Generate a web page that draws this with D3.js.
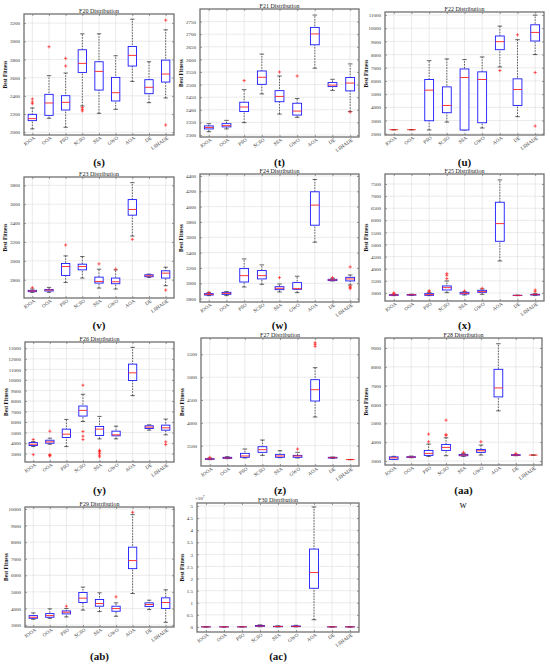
<html>
<meta charset="utf-8" />
<head>
<title>F20-F30 Distribution</title>
<style>
body { margin: 0; background: #fff; }
svg text { font-family: "Liberation Serif", "DejaVu Serif", serif; }
.tick text { font-size: 5px; fill: #333; }
.tick line { stroke: #444; }
.domain { display: none; }
.grid line { stroke: #dedede; stroke-width: 0.6; }
.title { font-size: 6px; text-anchor: middle; fill: #222; }
.ylab { font-size: 5.5px; font-weight: bold; text-anchor: middle; fill: #111; }
.tag { font-size: 11px; font-weight: bold; text-anchor: middle; fill: #111; }
</style>
<script src="https://cdn.jsdelivr.net/npm/d3@7"></script>
</head>
<body>
<svg class="chart" width="550" height="667"></svg>

<script>
/********
 * Data *
 ********/

var algorithms = ["IOOA","OOA","PSO","SCSO","SSA","GWO","AOA","DE","LSHADE"];
var functionNames = ["F20","F21","F22","F23","F24","F25","F26","F27","F28","F29","F30"];
var panelTags = ["(s)","(t)","(u)","(v)","(w)","(x)","(y)","(z)","(aa)","(ab)","(ac)"];

// y axis limits and tick labels
var yLimits = [[1970,3300],[2292,2800],[1900,11230],[2607,3888],[2756,4426],[2669,7913],
               [2204,13605],[3055,5858],[2790,9530],[2879,10121],[-0.207,5.124]];
var yTicks = [
  d3.range(2000,3201,200), d3.range(2300,2751,50), d3.range(2000,11001,1000),
  d3.range(2800,3801,200), d3.range(2800,4401,200), d3.range(3000,7501,500),
  d3.range(3000,13001,1000), d3.range(3500,5501,500), d3.range(3000,9001,1000),
  d3.range(3000,10001,1000), d3.range(0,5.01,0.5)
];
var f30Exponent = 7; // F30 values are in units of 10^7

// [lower whisker, q1, median, q3, upper whisker] per algorithm
var f20 = [[2037,2128,2150,2197,2267],[2154,2186,2322,2417,2622],[2055,2245,2329,2402,2651],
  [2289,2658,2757,2907,3082],[2208,2464,2669,2775,3082],[2252,2344,2435,2603,2841],
  [2559,2728,2845,2943,3243],[2325,2424,2494,2578,2775],[2377,2552,2640,2793,3126]];
var f20Out = [[2366,2333,2314],[2940],[2812,2728],[2271,2252,2234],[],[],[],[],[3232,2080]];

var f21 = [[2313,2324,2330,2336,2345],[2324,2332,2337,2345,2358],[2349,2393,2411,2430,2480],
  [2463,2501,2529,2554,2621],[2383,2432,2453,2476,2534],[2370,2379,2395,2426,2445],
  [2565,2658,2701,2727,2776],[2477,2492,2498,2508,2521],[2393,2475,2506,2528,2582]];
var f21Out = [[],[],[2516],[],[2550],[2534],[],[],[2391]];

var f22 = [[2300,2300,2300,2300,2300],[2300,2300,2300,2300,2300],[2280,2980,5300,6110,7540],
  [2880,3590,4140,5550,7670],[2280,2280,6260,6910,7620],[2430,2830,6110,6690,7820],
  [7060,8370,8980,9410,10160],[3290,4140,5350,6160,9130],[8000,9030,9680,10260,10990]];
var f22Out = [[],[],[],[],[],[],[6790],[9500],[6640,2580]];

var f23 = [[2667,2674,2681,2688,2702],[2667,2681,2691,2698,2719],[2772,2846,2940,2972,3053],
  [2818,2905,2940,2965,3046],[2712,2765,2782,2828,2912],[2702,2758,2779,2818,2905],
  [3263,3484,3544,3649,3828],[2825,2832,2842,2853,2860],[2737,2818,2870,2895,2933]];
var f23Out = [[2716],[],[3168],[],[2968],[2912],[3228],[],[2691]];

var f24 = [[2839,2847,2856,2865,2882],[2839,2856,2869,2882,2891],[2952,3017,3100,3192,3318],
  [2987,3057,3100,3166,3240],[2887,2917,2935,2956,2991],[2878,2922,2930,3009,3092],
  [3536,3758,4020,4194,4355],[3031,3035,3044,3052,3065],[2978,3031,3057,3078,3109]];
var f24Out = [[2880],[],[],[],[3074],[],[],[3075],[3214,2961,2930,2945]];

var f25 = [[2890,2904,2917,2931,2945],[2900,2912,2925,2935,2950],[2890,2904,2931,2972,3014],
  [3014,3124,3220,3289,3496],[2917,2959,2986,3028,3055],[2945,3028,3055,3110,3165],
  [4322,5135,5865,6747,7669],[2890,2895,2900,2905,2910],[2904,2917,2931,2945,2972]];
var f25Out = [[2972,3000],[],[3096,3055],[3799,3730,3592],[3083],[3193],[],[],[3124,3055]];

var f26 = [[3669,3764,3892,4051,4146],[3892,3987,4115,4274,4465],[3669,4529,4847,5325,6248],
  [6057,6567,7108,7522,8637],[4401,4720,5325,5580,6535],[4401,4688,4783,5134,5611],
  [8510,9943,10675,11503,13096],[5229,5389,5516,5643,5739],[4783,5229,5452,5707,6280]];
var f26Out = [[4338,2904],[5134,2840,2780,2900],[],[9497,5102,4656,4338],
  [3318,3159,3000,2841,2700,3230],[],[],[],[4115,3860]];

var f27 = [[3193,3201,3208,3215,3230],[3215,3223,3230,3245,3259],[3230,3245,3274,3332,3427],
  [3288,3354,3412,3478,3624],[3237,3245,3274,3310,3391],[3230,3245,3274,3288,3354],
  [4128,4478,4726,4945,5208],[3223,3230,3237,3245,3252],[3195,3195,3195,3195,3195]];
var f27Out = [[3245],[],[],[],[],[3427],[5755,5719,5675],[],[]];

var f28 = [[3080,3090,3170,3220,3250],[3176,3194,3212,3229,3265],[3247,3300,3406,3564,3899],
  [3282,3564,3723,3882,4235],[3247,3282,3317,3353,3406],[3317,3459,3547,3617,3847],
  [5663,6404,6880,7868,9226],[3282,3300,3317,3335,3353],[3317,3317,3317,3317,3317]];
var f28Out = [[],[],[4428,4023],[5169,4411,4350],[3460],[4023],[],[3406],[]];

var f29 = [[3344,3405,3466,3567,3729],[3405,3466,3567,3688,3972],[3486,3668,3769,3850,3992],
  [3900,4356,4619,4964,5287],[3810,4134,4296,4538,4943],[3526,3830,3992,4134,4336],
  [4900,6401,6887,7696,9660],[3931,4113,4235,4336,4498],[3162,3992,4356,4640,5125]];
var f29Out = [[],[],[4134],[],[],[4700],[9802],[],[]];

var f30 = [[0.003,0.004,0.005,0.006,0.008],[0.003,0.004,0.005,0.006,0.008],[0.004,0.005,0.006,0.007,0.01],
  [0.01,0.03,0.04,0.06,0.09],[0.005,0.01,0.02,0.03,0.05],[0.005,0.015,0.025,0.04,0.07],
  [0.30,1.60,2.25,3.22,4.96],[0.003,0.004,0.005,0.006,0.008],[0.003,0.004,0.005,0.006,0.008]];
var f30Out = [[],[],[],[],[],[],[],[],[]];

var stats = [f20,f21,f22,f23,f24,f25,f26,f27,f28,f29,f30];
var outliers = [f20Out,f21Out,f22Out,f23Out,f24Out,f25Out,f26Out,f27Out,f28Out,f29Out,f30Out];

/**********
 * Layout *
 **********/

// plot rectangles [left, top, right, bottom] and the y of the panel tag
var frames = [
  [24,14,174,135,162],[200,9,359,137,162],[385,12,544,135,162],
  [24,177,174,298,325],[200,174,359,302,325],[385,174,544,301,325],
  [25,342,174,462,490],[201,338,359,466,490],[385,338,542,465,490],
  [25,507,174,627,656],[197,503,359,632,656]
];

var svg = d3.select(".chart");
var fmt = d3.format("~g");
var plus = "M-1.6,0H1.6M0,-1.6V1.6";

function drawPanel(i){
  var f = frames[i];
  var left = f[0], top = f[1], right = f[2], bottom = f[3];

  var x = d3.scalePoint().domain(algorithms).range([left,right]).padding(0.5);
  var y = d3.scaleLinear().domain(yLimits[i]).range([bottom,top]);
  var step = x.step();

  var g = svg.append("g");

  // grid
  g.append("g").attr("class","grid")
    .selectAll("line.h").data(yTicks[i]).enter().append("line")
    .attr("x1",left).attr("x2",right)
    .attr("y1",function(d){ return y(d); }).attr("y2",function(d){ return y(d); });
  g.select(".grid").selectAll("line.v").data(algorithms).enter().append("line")
    .attr("x1",function(d){ return x(d); }).attr("x2",function(d){ return x(d); })
    .attr("y1",top).attr("y2",bottom);

  // axes with inward ticks
  var yAxis = g.append("g").attr("transform","translate("+left+",0)")
    .call(d3.axisLeft(y).tickValues(yTicks[i]).tickFormat(fmt).tickSizeInner(-2).tickPadding(4));
  yAxis.selectAll(".tick line").attr("stroke-width",0.5);

  g.append("g").attr("transform","translate("+right+",0)")
    .call(d3.axisRight(y).tickValues(yTicks[i]).tickFormat("").tickSizeInner(-2))
    .selectAll(".tick line").attr("stroke-width",0.5);

  var xAxis = g.append("g").attr("transform","translate(0,"+bottom+")")
    .call(d3.axisBottom(x).tickSizeInner(-2).tickPadding(3));
  xAxis.selectAll(".tick line").attr("stroke-width",0.5);
  xAxis.selectAll(".tick text")
    .attr("text-anchor","end")
    .attr("dy","0.3em")
    .attr("transform","rotate(-35)");

  g.append("g").attr("transform","translate(0,"+top+")")
    .call(d3.axisTop(x).tickFormat("").tickSizeInner(-2))
    .selectAll(".tick line").attr("stroke-width",0.5);

  // frame
  g.append("rect")
    .attr("x",left).attr("y",top)
    .attr("width",right-left).attr("height",bottom-top)
    .attr("fill","none").attr("stroke","#707070").attr("stroke-width",1.3);

  // boxes
  var rows = algorithms.map(function(a,k){ return {name:a, s:stats[i][k], o:outliers[i][k]}; });
  var box = g.selectAll("g.box").data(rows).enter().append("g").attr("class","box");

  box.append("line")
    .attr("x1",function(d){ return x(d.name); }).attr("x2",function(d){ return x(d.name); })
    .attr("y1",function(d){ return y(d.s[0]); }).attr("y2",function(d){ return y(d.s[4]); })
    .attr("stroke","#000").attr("stroke-width",0.6).attr("stroke-dasharray","1.6,1.2");

  [0,4].forEach(function(j){
    box.append("line")
      .attr("x1",function(d){ return x(d.name)-step*0.13; })
      .attr("x2",function(d){ return x(d.name)+step*0.13; })
      .attr("y1",function(d){ return y(d.s[j]); }).attr("y2",function(d){ return y(d.s[j]); })
      .attr("stroke","#000").attr("stroke-width",0.6);
  });

  box.append("rect")
    .attr("x",function(d){ return x(d.name)-step*0.25; })
    .attr("width",step*0.5)
    .attr("y",function(d){ return y(d.s[3]); })
    .attr("height",function(d){ return Math.max(0,y(d.s[1])-y(d.s[3])); })
    .attr("fill","#fff").attr("stroke","#1a1aff").attr("stroke-width",0.9);

  box.append("line")
    .attr("x1",function(d){ return x(d.name)-step*0.25; })
    .attr("x2",function(d){ return x(d.name)+step*0.25; })
    .attr("y1",function(d){ return y(d.s[2]); }).attr("y2",function(d){ return y(d.s[2]); })
    .attr("stroke","#ff2020").attr("stroke-width",0.9);

  box.selectAll("path.out").data(function(d){ return d.o.map(function(v){ return [d.name,v]; }); })
    .enter().append("path")
    .attr("d",plus)
    .attr("transform",function(d){ return "translate("+x(d[0])+","+y(d[1])+")"; })
    .attr("stroke","#ff2020").attr("stroke-width",0.7).attr("fill","none");

  // labels
  g.append("text").attr("class","title")
    .attr("x",(left+right)/2).attr("y",top-1.5)
    .text(functionNames[i]+" Distribution");

  var labelX = left - (i===10 ? 13 : 17);
  g.append("text").attr("class","ylab")
    .attr("transform","translate("+labelX+","+((top+bottom)/2)+") rotate(-90)")
    .text("Best Fitness");

  g.append("text").attr("class","tag")
    .attr("x",(left+right)/2).attr("y",f[4]+3.5)
    .text(panelTags[i]);

  if(i===10){
    var e = g.append("text").attr("x",left-2).attr("y",top-3).style("font-size","5px").attr("fill","#333");
    e.append("tspan").text("\u00d710");
    e.append("tspan").attr("dy",-2).style("font-size","3.5px").text(f30Exponent);
  }
}

functionNames.forEach(function(n,i){ drawPanel(i); });

// stray caption under panel (aa)
svg.append("text")
  .attr("x",463).attr("y",508)
  .attr("text-anchor","middle")
  .style("font-size","10px").attr("fill","#222")
  .text("w");

</script>
</body>
</html>
